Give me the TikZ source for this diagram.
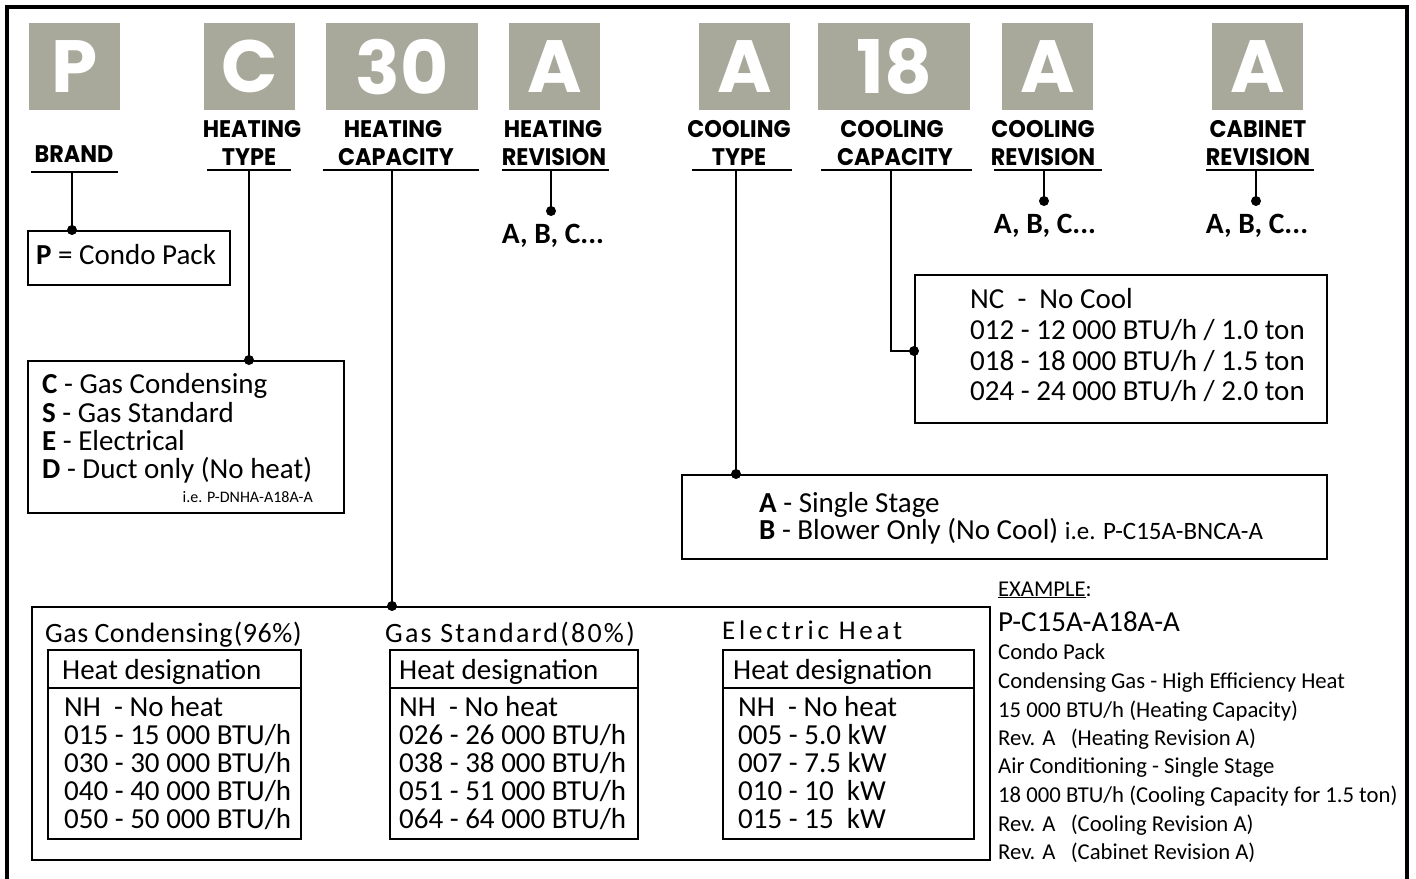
\documentclass[tikz,border=0pt]{standalone}
\usepackage{fontspec}
\setmainfont{Carlito}
\newfontfamily\hdr{Poppins}
\definecolor{gbox}{RGB}{168,168,155}
\newcommand{\fs}[1]{\fontsize{#1}{#1}\selectfont}
\newcommand{\hx}[1]{\scalebox{0.93}[1]{#1}}
\tikzset{
  greybox/.style={fill=gbox, minimum height=87, anchor=north west, inner sep=0, text=white, font=\hdr\bfseries\fs{74}},
  boxed/.style={draw, line width=1.5, anchor=north west, inner sep=0},
  conn/.style={line width=1.5},
  uline/.style={line width=2},
  dotc/.style={circle, fill, inner sep=0, minimum size=10},
  hd/.style={font=\hdr\bfseries\fs{24}, anchor=base, inner sep=0},
  txt/.style={font=\fs{29}, anchor=base west, inner sep=0},
  tbl/.style={font=\fs{29}, anchor=base west, inner sep=0},
  ex/.style={font=\fs{22.7}, anchor=base west, inner sep=0},
  abc/.style={font=\bfseries\fs{29.5}, anchor=base, inner sep=0},
}
\begin{document}
\begin{tikzpicture}[x=1pt,y=-1pt]
\useasboundingbox (0,0) rectangle (1416,878);
% outer frame
\draw[line width=4] (7,884) -- (7,7) -- (1407,7) -- (1407,884);

% grey code boxes
\node[greybox, minimum width=91] (gP) at (29,23) {P};
\node[greybox, minimum width=91] (gC) at (204,23) {C};
\node[greybox, minimum width=152] (g30) at (326,23) {30};
\node[greybox, minimum width=91] (gA1) at (509,23) {A};
\node[greybox, minimum width=91] (gA2) at (699,23) {A};
\node[greybox, minimum width=152] (g18) at (818,23) {18};
\node[greybox, minimum width=91] (gA3) at (1002,23) {A};
\node[greybox, minimum width=91] (gA4) at (1212,23) {A};

% headers
\node[hd] (hBrand) at (74,162) {\hx{BRAND}};
\node[hd] (hHT1) at (252,137) {\hx{HEATING}};
\node[hd] (hHT2) at (249,165) {\hx{TYPE}};
\node[hd] (hHC1) at (393,137) {\hx{HEATING}};
\node[hd] (hHC2) at (396,165) {\hx{CAPACITY}};
\node[hd] (hHR1) at (553,137) {\hx{HEATING}};
\node[hd] (hHR2) at (554,165) {\hx{REVISION}};
\node[hd] (hCT1) at (739,137) {\hx{COOLING}};
\node[hd] (hCT2) at (739,165) {\hx{TYPE}};
\node[hd] (hCC1) at (892,137) {\hx{COOLING}};
\node[hd] (hCC2) at (895,165) {\hx{CAPACITY}};
\node[hd] (hCR1) at (1043,137) {\hx{COOLING}};
\node[hd] (hCR2) at (1043,165) {\hx{REVISION}};
\node[hd] (hCB1) at (1258,137) {\hx{CABINET}};
\node[hd] (hCB2) at (1258,165) {\hx{REVISION}};

% underlines
\draw[uline] (31,172) -- (118,172);
\draw[uline] (207,170) -- (291,170);
\draw[uline] (323,170) -- (479,170);
\draw[uline] (502,170) -- (609,170);
\draw[uline] (692,170) -- (792,170);
\draw[uline] (821,170) -- (972,170);
\draw[uline] (994,170) -- (1102,170);
\draw[uline] (1206,170) -- (1314,170);
\coordinate (uBrand) at (72,172);
\coordinate (uHT) at (249,170);
\coordinate (uHC) at (392,170);
\coordinate (uHR) at (551,170);
\coordinate (uCT) at (736,170);
\coordinate (uCC) at (891,170);
\coordinate (uCR) at (1044,170);
\coordinate (uCB) at (1256,170);

% brand box
\node[boxed, minimum width=202, minimum height=54] (bBrand) at (27,230) {};
\node[txt] (tBrand) at (36,264) {\textbf{P} = Condo Pack};

% heating type box
\node[boxed, minimum width=316, minimum height=152] (bHT) at (27,360) {};
\node[txt] (tHT1) at (42,393) {\textbf{C} - Gas Condensing};
\node[txt] (tHT2) at (42,422) {\textbf{S} - Gas Standard};
\node[txt] (tHT3) at (42,450) {\textbf{E} - Electrical};
\node[txt] (tHT4) at (42,478) {\textbf{D} - Duct only (No heat)};
\node[font=\fs{16}, anchor=base east, inner sep=0] (tHT5) at (313,502) {i.e. P-DNHA-A18A-A};

% revision values
\node[abc] (tHR) at (553,243) {A, B, C...};
\node[abc] (tCR) at (1045,233) {A, B, C...};
\node[abc] (tCB) at (1257,233) {A, B, C...};

% cooling capacity box
\node[boxed, minimum width=412, minimum height=148] (bCC) at (914,274) {};
\node[txt] (tCC1) at (970,308) {NC\ \ -\ \ No Cool};
\node[txt] (tCC2) at (970,339) {012 - 12 000 BTU/h / 1.0 ton};
\node[txt] (tCC3) at (970,370) {018 - 18 000 BTU/h / 1.5 ton};
\node[txt] (tCC4) at (970,400) {024 - 24 000 BTU/h / 2.0 ton};

% cooling type box
\node[boxed, minimum width=645, minimum height=84] (bCT) at (681,474) {};
\node[txt] (tCT1) at (759,512) {\textbf{A} - Single Stage};
\node[txt] (tCT2) at (759,539) {\textbf{B} - Blower Only (No Cool) {\fs{25}i.e. P-C15A-BNCA-A}};

% big heating capacity box
\node[boxed, minimum width=958, minimum height=253] (bHC) at (31,606) {};

% Gas condensing
\node[font=\fs{28}\addfontfeatures{LetterSpace=2}, anchor=base west, inner sep=0] (tGC) at (45,642) {Gas\hspace{0.22em}Condensing\hspace{0.05em}(96\%)};
\node[boxed, minimum width=253, minimum height=189] (bGC) at (47,649) {};
\draw[line width=1.5] (bGC.west |- 0,688) -- (bGC.east |- 0,688);
\node[tbl] (tGC0) at (62,679) {Heat designation};
\node[tbl] (tGC1) at (64,716) {NH\ \ - No heat};
\node[tbl] (tGC2) at (64,744) {015 - 15 000 BTU/h};
\node[tbl] (tGC3) at (64,772) {030 - 30 000 BTU/h};
\node[tbl] (tGC4) at (64,800) {040 - 40 000 BTU/h};
\node[tbl] (tGC5) at (64,828) {050 - 50 000 BTU/h};

% Gas standard
\node[font=\fs{28}\addfontfeatures{LetterSpace=8}, anchor=base west, inner sep=0] (tGS) at (385,642) {Gas Standard(80\%)};
\node[boxed, minimum width=248, minimum height=189] (bGS) at (389,649) {};
\draw[line width=1.5] (bGS.west |- 0,688) -- (bGS.east |- 0,688);
\node[tbl] (tGS0) at (399,679) {Heat designation};
\node[tbl] (tGS1) at (399,716) {NH\ \ - No heat};
\node[tbl] (tGS2) at (399,744) {026 - 26 000 BTU/h};
\node[tbl] (tGS3) at (399,772) {038 - 38 000 BTU/h};
\node[tbl] (tGS4) at (399,800) {051 - 51 000 BTU/h};
\node[tbl] (tGS5) at (399,828) {064 - 64 000 BTU/h};

% Electric heat
\node[font=\fs{27}\addfontfeatures{LetterSpace=14}, anchor=base west, inner sep=0] (tEH) at (722,639) {Electric Heat};
\node[boxed, minimum width=251, minimum height=189] (bEH) at (722,649) {};
\draw[line width=1.5] (bEH.west |- 0,688) -- (bEH.east |- 0,688);
\node[tbl] (tEH0) at (733,679) {Heat designation};
\node[tbl] (tEH1) at (738,716) {NH\ \ - No heat};
\node[tbl] (tEH2) at (738,744) {005 - 5.0 kW};
\node[tbl] (tEH3) at (738,772) {007 - 7.5 kW};
\node[tbl] (tEH4) at (738,800) {010 - 10\ \ kW};
\node[tbl] (tEH5) at (738,828) {015 - 15\ \ kW};

% example
\node[font=\fs{22.6}, anchor=base west, inner sep=0] (eHead) at (998,596) {\underline{EXAMPLE}:};
\node[font=\fs{29}, anchor=base west, inner sep=0] (eCode) at (998,631) {P-C15A-A18A-A};
\node[ex] (e1) at (998,659) {Condo Pack};
\node[ex] (e2) at (998,688) {Condensing Gas - High Efficiency Heat};
\node[ex] (e3) at (998,717) {15 000 BTU/h (Heating Capacity)};
\node[ex] (e4) at (998,745) {Rev. A\ \ \ (Heating Revision A)};
\node[ex] (e5) at (998,773) {Air Conditioning - Single Stage};
\node[ex] (e6) at (998,802) {18 000 BTU/h (Cooling Capacity for 1.5 ton)};
\node[ex] (e7) at (998,831) {Rev. A\ \ \ (Cooling Revision A)};
\node[ex] (e8) at (998,859) {Rev. A\ \ \ (Cabinet Revision A)};

% connectors and dots
\node[dotc] (dBrand) at (bBrand.north -| uBrand) {};
\draw[conn] (uBrand) -- (dBrand.center);
\node[dotc] (dHT) at (bHT.north -| uHT) {};
\draw[conn] (uHT) -- (dHT.center);
\node[dotc] (dHC) at (bHC.north -| uHC) {};
\draw[conn] (uHC) -- (dHC.center);
\node[dotc] (dHR) at (551,211) {};
\draw[conn] (uHR) -- (dHR.center);
\node[dotc] (dCT) at (bCT.north -| uCT) {};
\draw[conn] (uCT) -- (dCT.center);
\node[dotc] (dCC) at (bCC.west |- 0,351) {};
\draw[conn] (uCC) |- (dCC.center);
\node[dotc] (dCR) at (1044,201) {};
\draw[conn] (uCR) -- (dCR.center);
\node[dotc] (dCB) at (1256,201) {};
\draw[conn] (uCB) -- (dCB.center);
\end{tikzpicture}
\end{document}
